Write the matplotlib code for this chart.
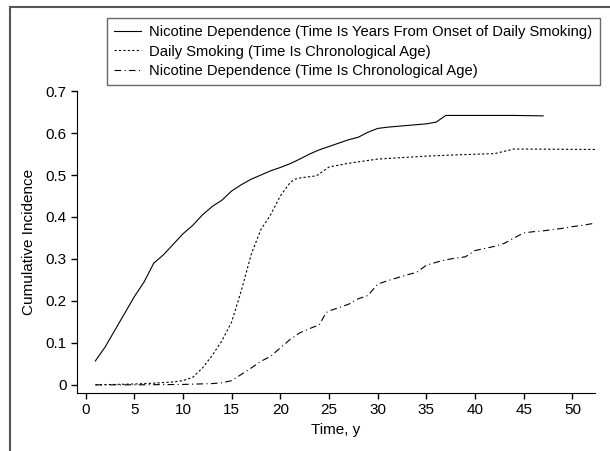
import matplotlib.pyplot as plt
from matplotlib.lines import Line2D

plt.rcParams['font.family'] = ['Liberation Sans', 'DejaVu Sans']

# Nicotine dependence, time = years from onset of daily smoking
t_dep_onset = [1, 2, 3, 4, 5, 6, 7, 8, 9, 10, 11, 12, 13, 14, 15, 16, 17, 18, 19, 20,
               21, 22, 23, 24, 25, 26, 27, 28, 29, 30, 31, 33, 35, 36, 37, 40, 44, 47]
v_dep_onset = [0.057, 0.09, 0.13, 0.17, 0.21, 0.245, 0.29, 0.31, 0.335, 0.36, 0.38, 0.405,
               0.425, 0.44, 0.462, 0.477, 0.49, 0.5, 0.51, 0.518, 0.527, 0.538, 0.55, 0.56,
               0.568, 0.576, 0.584, 0.59, 0.602, 0.611, 0.614, 0.618, 0.622, 0.626, 0.642,
               0.642, 0.642, 0.641]

# Daily smoking, time = chronological age
t_smoke = [1, 3, 5, 7, 9, 10, 11, 12, 13, 14, 15, 16, 17, 18, 19, 20, 21, 21.5, 22, 23.7,
           25, 27, 30, 35, 38, 42, 44, 52.5]
v_smoke = [0, 0.001, 0.002, 0.004, 0.007, 0.01, 0.018, 0.04, 0.07, 0.105, 0.15, 0.225,
           0.31, 0.37, 0.405, 0.45, 0.482, 0.49, 0.493, 0.498, 0.519, 0.528, 0.538, 0.545,
           0.548, 0.551, 0.562, 0.561]

# Nicotine dependence, time = chronological age
t_dep_age = [1, 5, 10, 13, 14, 15, 16, 17, 18, 19, 20, 21, 22, 23, 24, 24.7, 25, 26, 27,
             28, 29, 30, 31, 32, 33, 34, 35, 36, 37, 38, 39, 40, 41, 42, 43, 44, 45, 46,
             47, 48, 49, 50, 51, 52.5]
v_dep_age = [0, 0, 0.001, 0.003, 0.005, 0.01, 0.025, 0.04, 0.056, 0.068, 0.088, 0.108,
             0.124, 0.134, 0.143, 0.172, 0.176, 0.184, 0.192, 0.205, 0.213, 0.24, 0.248,
             0.255, 0.262, 0.268, 0.285, 0.292, 0.298, 0.302, 0.305, 0.32, 0.325, 0.33,
             0.337, 0.35, 0.362, 0.365, 0.367, 0.37, 0.373, 0.377, 0.38, 0.386]

labels = ['Nicotine Dependence (Time Is Years From Onset of Daily Smoking)',
          'Daily Smoking (Time Is Chronological Age)',
          'Nicotine Dependence (Time Is Chronological Age)']

fig = plt.figure(figsize=(6.1, 4.51), dpi=100)
ax = fig.add_axes([0.126, 0.129, 0.849, 0.669])

ax.plot(t_dep_onset, v_dep_onset, color='black', lw=0.8, label=labels[0])
ax.plot(t_smoke, v_smoke, color='black', lw=0.8, ls=(0, (2, 2)), label=labels[1])
ax.plot(t_dep_age, v_dep_age, color='black', lw=0.8, ls=(0, (6, 3, 1, 3)), label=labels[2])

ax.set_xlim(-0.9, 52.3)
ax.set_ylim(-0.019, 0.7)
ax.set_xticks(range(0, 51, 5))
ax.set_yticks([0, 0.1, 0.2, 0.3, 0.4, 0.5, 0.6, 0.7])
ax.set_yticklabels(['0', '0.1', '0.2', '0.3', '0.4', '0.5', '0.6', '0.7'])
ax.tick_params(labelsize=11, length=4, width=1, direction='out')
ax.spines['top'].set_visible(False)
ax.spines['right'].set_visible(False)
ax.set_xlabel('Time, y', fontsize=11, labelpad=4)
ax.set_ylabel('Cumulative Incidence', fontsize=11, labelpad=7)

leg = fig.legend(loc='upper left', bbox_to_anchor=(0.175, 0.960), borderaxespad=0,
                 fontsize=10.6, frameon=True, fancybox=False, handlelength=1.8,
                 handletextpad=0.6, labelspacing=0.35, borderpad=0.5)
leg.get_frame().set_edgecolor('#444444')
leg.get_frame().set_linewidth(1.0)

# outer frame lines (left and top)
fig.add_artist(Line2D([0.017, 0.017], [0, 0.985], color='#555555', lw=1.5))
fig.add_artist(Line2D([0.017, 1.0], [0.985, 0.985], color='#555555', lw=1.5))

fig.savefig('out.png', dpi=100)
